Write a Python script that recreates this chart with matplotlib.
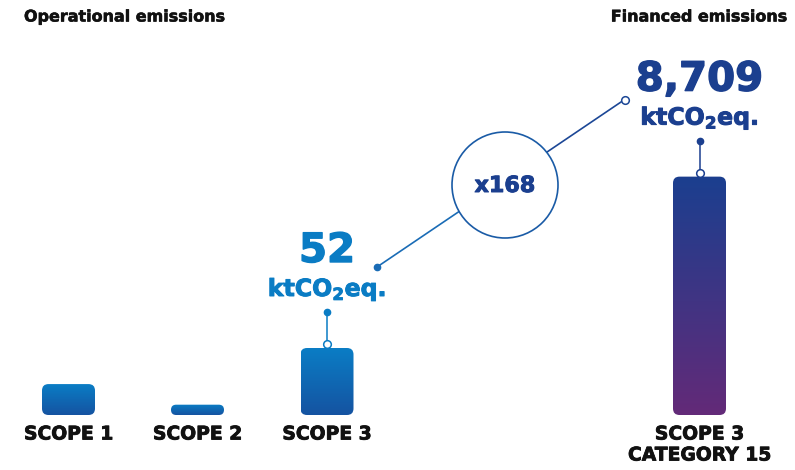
import numpy as np
import matplotlib.pyplot as plt
import matplotlib.patheffects as pe
from matplotlib.patches import FancyBboxPatch, Circle
from matplotlib.colors import LinearSegmentedColormap

FONT = "DejaVu Sans"
plt.rcParams['font.family'] = [FONT]
plt.rcParams['mathtext.fontset'] = 'custom'
plt.rcParams['mathtext.rm'] = 'DejaVu Sans:bold'
plt.rcParams['mathtext.default'] = 'rm'

# --- data ---
categories = ["SCOPE 1", "SCOPE 2", "SCOPE 3", "SCOPE 3\nCATEGORY 15"]
values = [24, 8, 52, 8709]            # ktCO2eq
drawn_values = [24, 8, 52, 185]       # financed bar is shortened (not to scale) in the original
callout_labels = [None, None, "52", "8,709"]
unit_label = "ktCO$_2$eq."
multiplier = "x168"
group_titles = ["Operational emissions", "Financed emissions"]

# --- layout (pixel coords, y grows downward) ---
W, H = 795, 470
x_centers = [68.5, 197.5, 327, 699.5]
bar_w = 53
baseline = 415
px_per_unit = 67 / 52

light_blue = "#0a7cc4"
dark_blue = "#1b3f8f"
purple = "#632a78"


def heavy(col, w=0.6):
    # thicken DejaVu Bold a little so it reads closer to the original's heavy face
    return [pe.withStroke(linewidth=w, foreground=col)]


fig = plt.figure(figsize=(W / 100, H / 100), dpi=100)
ax = fig.add_axes([0, 0, 1, 1])
ax.set_xlim(0, W)
ax.set_ylim(H, 0)
ax.axis('off')

op_cmap = LinearSegmentedColormap.from_list("op", ["#0a7dc5", "#1553a1"])
fin_cmap = LinearSegmentedColormap.from_list("fin", [dark_blue, purple])
grad = np.linspace(0, 1, 256).reshape(-1, 1)

tops = []
for i, (xc, v) in enumerate(zip(x_centers, drawn_values)):
    h = v * px_per_unit
    top = baseline - h
    tops.append(top)
    x0 = xc - bar_w / 2
    r = min(6.5, h / 2)
    patch = FancyBboxPatch((x0, top), bar_w, h,
                           boxstyle=f"round,pad=0,rounding_size={r}",
                           linewidth=0, facecolor='none')
    ax.add_patch(patch)
    cmap = fin_cmap if i == 3 else op_cmap
    im = ax.imshow(grad, cmap=cmap, aspect='auto', origin='upper',
                   extent=(x0, x0 + bar_w, baseline, top), zorder=2)
    im.set_clip_path(patch)

    # category label
    lines = categories[i].split("\n")
    for j, line in enumerate(lines):
        ax.text(xc, 434 + j * 21, line, ha='center', va='center',
                fontsize=13.5, fontweight='bold', color='#111111',
                path_effects=heavy('#111111'))

    # value callouts
    if callout_labels[i]:
        col = light_blue if i < 3 else dark_blue
        ax.plot([xc, xc], [top - 36, top - 4], color=col, lw=1.1, zorder=3)
        ax.plot(xc, top - 36, 'o', ms=4.5, color=col, zorder=4)
        ax.plot(xc, top - 4, 'o', ms=5.5, mfc='white', mec=col, mew=1.1, zorder=4)
        ax.text(xc, top - 97, callout_labels[i], ha='center', va='center',
                fontsize=29, fontweight='bold', color=col,
                path_effects=heavy(col, 1.0))
        ax.text(xc, top - 59, unit_label, ha='center', va='center',
                fontsize=17, fontweight='bold', color=col,
                path_effects=heavy(col, 0.7))

# connector line between the two callouts with the multiplier bubble
p0 = (x_centers[2] + 50, tops[2] - 81)
p1 = (x_centers[3] - 75, tops[3] - 77)
ax.plot([p0[0], (p0[0] + p1[0]) / 2], [p0[1], (p0[1] + p1[1]) / 2],
        color="#1a6cb6", lw=1.2, zorder=3)
ax.plot([(p0[0] + p1[0]) / 2, p1[0]], [(p0[1] + p1[1]) / 2, p1[1]],
        color="#1c4796", lw=1.2, zorder=3)
ax.plot(*p0, 'o', ms=4.5, color="#1a6cb6", zorder=4)
ax.plot(*p1, 'o', ms=5.5, mfc='white', mec="#1c4796", mew=1.1, zorder=4)
bubble = Circle((505, 185), 53, facecolor='white', edgecolor="#1a5ba6",
                lw=1.2, zorder=5)
ax.add_patch(bubble)
ax.text(505, 186, multiplier, ha='center', va='center', fontsize=16,
        fontweight='bold', color=dark_blue, zorder=6,
        path_effects=heavy(dark_blue, 0.7))

# group titles
ax.text(24, 17, group_titles[0], ha='left', va='center', fontsize=11.5,
        fontweight='bold', color='#111111', path_effects=heavy('#111111', 0.4))
ax.text(788, 17, group_titles[1], ha='right', va='center', fontsize=11.5,
        fontweight='bold', color='#111111', path_effects=heavy('#111111', 0.4))

fig.savefig("out.png", dpi=100)
